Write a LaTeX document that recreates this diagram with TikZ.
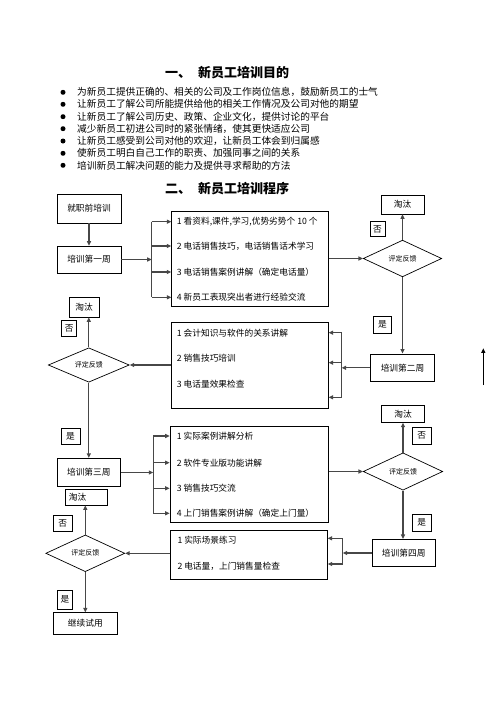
\documentclass[tikz,border=0pt]{standalone}
\usepackage{fontspec}
\setmainfont{Noto Sans CJK SC}
\usetikzlibrary{shapes.geometric,arrows.meta}
\newcommand\fsz[1]{\fontsize{#1pt}{#1pt}\selectfont}
\begin{document}
\begin{tikzpicture}[x=1pt,y=-1pt,
  box/.style={draw=black,line width=0.7pt,inner sep=0pt,font=\fsz{8.7}},
  dia/.style={diamond,aspect=2.2,draw=black,line width=0.7pt,inner sep=0pt,font=\fsz{7}},
  item/.style={anchor=west,inner sep=0pt,font=\fsz{8.7}},
  para/.style={anchor=west,inner sep=0pt,font=\fsz{9.7}},
  ttl/.style={anchor=west,inner sep=0pt,font=\fsz{13}\bfseries},
  bul/.style={circle,fill=black,inner sep=0pt,minimum size=5pt},
  conn/.style={draw=black!72,line width=1.1pt},
  arr/.style={conn,-{Triangle[length=4.5pt,width=4pt]}}]
\useasboundingbox (0,0) rectangle (496,702);

% titles
\node[ttl] (ta) at (165,73) {一、\hspace{7pt}新员工培训目的};
\node[ttl] (tb) at (165,189) {二、\hspace{7pt}新员工培训程序};

% bullet list
\foreach \y/\t [count=\i] in {
  92.3/为新员工提供正确的、相关的公司及工作岗位信息，鼓励新员工的士气,
  104.3/让新员工了解公司所能提供给他的相关工作情况及公司对他的期望,
  116.7/让新员工了解公司历史、政策、企业文化，提供讨论的平台,
  128.7/减少新员工初进公司时的紧张情绪，使其更快适应公司,
  141/让新员工感受到公司对他的欢迎，让新员工体会到归属感,
  153.3/使新员工明白自己工作的职责、加强同事之间的关系,
  165.3/培训新员工解决问题的能力及提供寻求帮助的方法}
{
  \node[bul] (bu\i) at (63,\y) {};
  \node[para] (pa\i) at (77,\y) {\t};
}

% ---- week 1 ----
\node[box,minimum width=64,minimum height=29] (pre) at (89,208.5) {就职前培训};
\node[box,minimum width=64,minimum height=27] (w1) at (89,259.5) {培训第一周};
\node[box,minimum width=156.6,minimum height=95.7] (list1) at (250,258.8) {};
\node[item] (l1a) at (176.7,221.7) {1 看资料,课件,学习,优势劣势个 10 个};
\node[item] (l1b) at (176.7,246) {2 电话销售技巧，电话销售话术学习};
\node[item] (l1c) at (176.7,272) {3 电话销售案例讲解（确定电话量）};
\node[item] (l1d) at (176.7,297.3) {4 新员工表现突出者进行经验交流};
\node[dia,minimum width=78.4,minimum height=36.7] (d1) at (402.5,258.5) {评定反馈};
\node[box,minimum width=43,minimum height=19] (tao1) at (402.5,204.5) {淘汰};
\node[box,minimum width=15,minimum height=15] (no1) at (377.5,229.2) {否};
\node[box,minimum width=18,minimum height=17] (yes1) at (382.5,324.7) {是};

% ---- week 2 ----
\node[box,minimum width=64,minimum height=27.7] (w2) at (402.5,367.8) {培训第二周};
\node[box,minimum width=156.6,minimum height=85.6] (list2) at (250,365.5) {};
\node[item] (l2a) at (176.7,332.7) {1 会计知识与软件的关系讲解};
\node[item] (l2b) at (176.7,358.3) {2 销售技巧培训};
\node[item] (l2c) at (176.7,384) {3 电话量效果检查};
\node[dia,minimum width=81,minimum height=34.4] (d2) at (88.8,365) {评定反馈};
\node[box,minimum width=30,minimum height=20] (tao2) at (84,307) {淘汰};
\node[box,minimum width=15,minimum height=16.7] (no2) at (69.2,328.3) {否};
\node[box,minimum width=19,minimum height=16] (yes2) at (70.5,436.3) {是};

% ---- week 3 ----
\node[box,minimum width=63.3,minimum height=28.4] (w3) at (88.8,472.5) {培训第三周};
\node[box,minimum height=15.7,text width=34.7,inner xsep=4pt,align=left] (tao3) at (86.3,497.2) {淘汰};
\node[box,minimum width=18.7,minimum height=16] (no3) at (62.7,523) {否};
\node[box,minimum width=158.3,minimum height=95.6] (list3) at (249.2,474.5) {};
\node[item] (l3a) at (176.7,436) {1 实际案例讲解分析};
\node[item] (l3b) at (176.7,462.7) {2 软件专业版功能讲解};
\node[item] (l3c) at (176.7,488.3) {3 销售技巧交流};
\node[item] (l3d) at (176.7,513.3) {4 上门销售案例讲解（确定上门量）};
\node[dia,minimum width=79.4,minimum height=37.3] (d3) at (403,471.5) {评定反馈};
\node[box,minimum width=43.3,minimum height=17.3] (tao4) at (403,413.7) {淘汰};
\node[box,minimum width=18.7,minimum height=16.7] (no4) at (421.7,435.7) {否};
\node[box,minimum width=18.7,minimum height=17.7] (yes4) at (421.7,522.8) {是};

% ---- week 4 ----
\node[box,minimum width=62.7,minimum height=27.4] (w4) at (403.7,553) {培训第四周};
\node[box,minimum width=156.6,minimum height=48.3] (list4) at (249,554.8) {};
\node[item] (l4a) at (177.3,540) {1 实际场景练习};
\node[item] (l4b) at (177.3,566) {2 电话量，上门销售量检查};
\node[dia,minimum width=79,minimum height=36.7] (d4) at (85.3,553.3) {评定反馈};
\node[box,minimum width=15.4,minimum height=19] (yes5) at (65,599.5) {是};
\node[box,minimum width=64,minimum height=21.3] (cont) at (85.3,623.3) {继续试用};

% ---- connectors ----
\coordinate (bus1) at (151.7,0);
\coordinate (bus2) at (341.7,0);
\coordinate (bus3) at (153.3,0);
\coordinate (bus4) at (342.7,0);
\coordinate (r2a) at (341.7,332.7);
\coordinate (r2b) at (341.7,362.7);
\coordinate (r2c) at (341.7,397.3);
\coordinate (r4a) at (342.7,538.3);
\coordinate (r4b) at (342.7,564);
\coordinate (sa) at (483.3,385);
\coordinate (sb) at (483.3,348.3);

\draw[arr] (pre.south) -- (w1.north);
\draw[arr] (w1.east) -- (w1.east -| bus1);
\draw[conn] (l1a -| bus1) -- (l1d -| bus1);
\foreach \n in {l1a,l1b,l1c,l1d} \draw[arr] (\n -| bus1) -- (\n -| list1.west);
\draw[arr] (list1.east |- d1.west) -- (d1.west);
\draw[arr] (d1.north) -- (tao1.south);
\draw[arr] (d1.south) -- (w2.north);

\draw[arr] (w2.west) -- (w2.west -| bus2);
\draw[conn] (r2a) -- (r2c);
\foreach \c in {r2a,r2b,r2c} \draw[arr] (\c) -- (\c -| list2.east);
\draw[arr] (list2.west |- d2.east) -- (d2.east);
\draw[arr] (d2.north) -- (d2.north |- tao2.south);
\draw[arr] (d2.south) -- (d2.south |- w3.north);

\draw[arr] (w3.east) -- (w3.east -| bus3);
\draw[conn] (l3a -| bus3) -- (l3d -| bus3);
\foreach \n in {l3a,l3b,l3c,l3d} \draw[arr] (\n -| bus3) -- (\n -| list3.west);
\draw[arr] (list3.east |- d3.west) -- (d3.west);
\draw[arr] (d3.north) -- (d3.north |- tao4.south);
\draw[arr] (d3.south) -- (d3.south |- w4.north);

\draw[arr] (w4.west) -- (w4.west -| bus4);
\draw[conn] (r4a) -- (r4b);
\foreach \c in {r4a,r4b} \draw[arr] (\c) -- (\c -| list4.east);
\draw[arr] (list4.west |- d4.east) -- (d4.east);
\draw[arr] (d4.north) -- (d4.north |- tao3.south);
\draw[arr] (d4.south) -- (d4.south |- cont.north);

\draw[arr,draw=black,line width=0.9pt] (sa) -- (sb);
\end{tikzpicture}
\end{document}
